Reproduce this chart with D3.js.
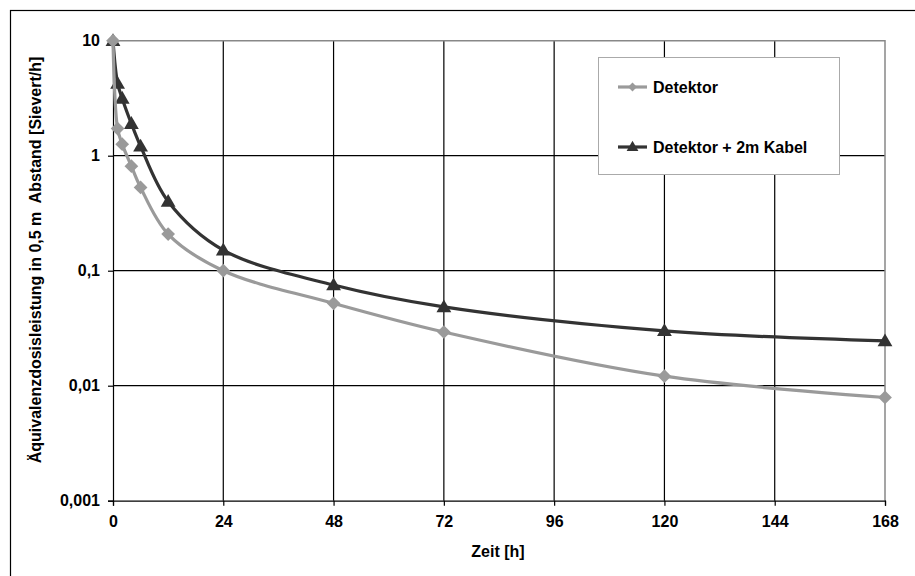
<!DOCTYPE html>
<html>
<head>
<meta charset="utf-8">
<script src="https://cdn.jsdelivr.net/npm/d3@7"></script>
<style>
  body { margin: 0; background: #fff; }
  text { font-family: "Liberation Sans", Arial, sans-serif; font-weight: bold; fill: #000; }
</style>
</head>
<body>
<svg id="chart" width="915" height="576"></svg>
<script>
// chart data
var hours = [0, 1, 2, 4, 6, 12, 24, 48, 72, 120, 168];
var detektor = [10, 1.72, 1.26, 0.81, 0.53, 0.208, 0.1, 0.052, 0.0293, 0.0121, 0.0079];
var kabel = [10, 4.25, 3.15, 1.9, 1.21, 0.4, 0.151, 0.075, 0.0484, 0.03, 0.0245];
var xTicks = [0, 24, 48, 72, 96, 120, 144, 168];
var yTicks = [0.001, 0.01, 0.1, 1, 10];
var yTickLabels = ["0,001", "0,01", "0,1", "1", "10"];
var seriesNames = ["Detektor", "Detektor + 2m Kabel"];

var svg = d3.select("#chart");

// plot area (window.top is taken, so prefixed names)
var plotL = 113, plotR = 885, plotT = 40.7, plotB = 500.7;

var x = d3.scaleLinear().domain([0, 168]).range([plotL, plotR]);
var y = d3.scaleLog().domain([0.001, 10]).range([plotB, plotT]);

var lightCol = "#9a9a9a";
var darkCol = "#333333";

// outer frame (only top and left edges show)
svg.append("rect")
    .attr("x", 10.5).attr("y", 10.5)
    .attr("width", 1000).attr("height", 1000)
    .attr("fill", "none").attr("stroke", "#000").attr("stroke-width", 1.2);

// grid
var grid = svg.append("g").attr("id", "grid");
grid.selectAll("line.v")
    .data(xTicks.filter(d => d > 0 && d < 168))
    .enter().append("line")
    .attr("x1", d => x(d)).attr("x2", d => x(d))
    .attr("y1", plotT).attr("y2", plotB)
    .attr("stroke", "#000").attr("stroke-width", 1.2);
grid.selectAll("line.h")
    .data(yTicks.filter(d => d > 0.001 && d < 10))
    .enter().append("line")
    .attr("x1", plotL).attr("x2", plotR)
    .attr("y1", d => y(d)).attr("y2", d => y(d))
    .attr("stroke", "#000").attr("stroke-width", 1.2);

// plot border top + right (gray)
svg.append("path")
    .attr("d", `M${plotL},${plotT}H${plotR}V${plotB}`)
    .attr("fill", "none").attr("stroke", "#888").attr("stroke-width", 1.5);

// axes
var xAxis = d3.axisBottom(x).tickValues(xTicks).tickSize(5).tickPadding(10);
var gx = svg.append("g").attr("transform", `translate(0,${plotB})`).call(xAxis);
gx.select(".domain").attr("stroke", "#000").attr("stroke-width", 1.2);
gx.selectAll(".tick line").attr("stroke", "#000").attr("stroke-width", 1.2);
gx.selectAll("text").attr("font-size", 16).attr("font-family", null);

var yAxis = d3.axisLeft(y).tickValues(yTicks).tickSize(5).tickPadding(8)
    .tickFormat((d, i) => yTickLabels[i]);
var gy = svg.append("g").attr("transform", `translate(${plotL},0)`).call(yAxis);
gy.select(".domain").attr("stroke", "#000").attr("stroke-width", 1.2);
gy.selectAll(".tick line").attr("stroke", "#000").attr("stroke-width", 1.2);
gy.selectAll("text").attr("font-size", 16).attr("font-family", null);

// axis titles
svg.append("text")
    .attr("x", 498).attr("y", 557)
    .attr("text-anchor", "middle")
    .attr("font-size", 16)
    .text("Zeit [h]");

svg.append("text")
    .attr("transform", "translate(41,260) rotate(-90)")
    .attr("text-anchor", "middle")
    .attr("font-size", 16)
    .style("white-space", "pre")
    .text("Äquivalenzdosisleistung in 0,5 m  Abstand [Sievert/h]");

// series
var line = d3.line()
    .x(d => x(d[0]))
    .y(d => y(d[1]))
    .curve(d3.curveCatmullRom.alpha(0.5));

var diamond = d3.symbol().type(d3.symbolDiamond2).size(120);
var triangle = d3.symbol().type(d3.symbolTriangle).size(95);

var kabelPts = hours.map((h, i) => [h, kabel[i]]);
var detPts = hours.map((h, i) => [h, detektor[i]]);

svg.append("path")
    .datum(kabelPts)
    .attr("d", line)
    .attr("fill", "none").attr("stroke", darkCol).attr("stroke-width", 3.2);
svg.append("g").selectAll("path")
    .data(kabelPts)
    .enter().append("path")
    .attr("transform", d => `translate(${x(d[0])},${y(d[1]) + 1})`)
    .attr("d", triangle)
    .attr("fill", darkCol);

svg.append("path")
    .datum(detPts)
    .attr("d", line)
    .attr("fill", "none").attr("stroke", lightCol).attr("stroke-width", 3.2);
svg.append("g").selectAll("path")
    .data(detPts)
    .enter().append("path")
    .attr("transform", d => `translate(${x(d[0])},${y(d[1])})`)
    .attr("d", diamond)
    .attr("fill", lightCol);

// legend
var legend = svg.append("g").attr("transform", "translate(598,57)");
legend.append("rect")
    .attr("x", 0.5).attr("y", 0.5)
    .attr("width", 241).attr("height", 117)
    .attr("fill", "#fff").attr("stroke", "#aaa").attr("stroke-width", 1);

var entries = legend.selectAll("g.entry")
    .data(seriesNames)
    .enter().append("g")
    .attr("transform", (d, i) => `translate(0,${30 + i * 60})`);
entries.append("line")
    .attr("x1", 20).attr("x2", 49)
    .attr("stroke", (d, i) => i == 0 ? lightCol : darkCol)
    .attr("stroke-width", 3.2);
entries.append("path")
    .attr("transform", (d, i) => `translate(34.5,${i == 0 ? 0 : 0.5})`)
    .attr("d", (d, i) => i == 0 ? d3.symbol().type(d3.symbolDiamond2).size(50)() : d3.symbol().type(d3.symbolTriangle).size(60)())
    .attr("fill", (d, i) => i == 0 ? lightCol : darkCol);
entries.append("text")
    .attr("x", 55).attr("y", 6)
    .attr("font-size", 16)
    .text(d => d);
</script>
</body>
</html>
